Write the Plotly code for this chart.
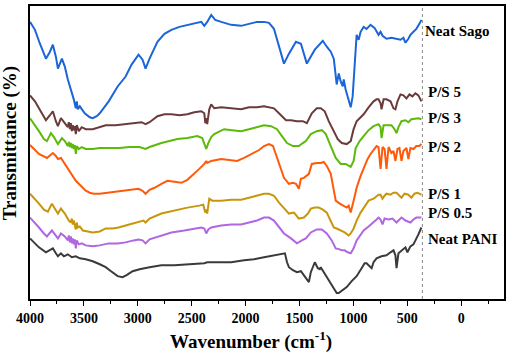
import plotly.graph_objects as go

# ---- data (wavenumber in cm^-1, transmittance in arbitrary offset units) ----
sago_wn = [4000,3954,3908,3852,3815,3788,3760,3741,3704,3677,3649,3630,3612,3594,3575,3566,3557,3538,3492,3446,3418,3381,3353,3270,3187,3113,3058,2993,2956,2928,2891,2818,2753,2688,2614,2540,2476,2411,2383,2356,2319,2282,2226,2134,2042,1968,1894,1829,1783,1737,1690,1644,1598,1533,1487,1432,1358,1284,1247,1210,1182,1164,1155,1136,1118,1099,1090,1072,1044,1025,1007,989,979,970,951,933,905,878,841,804,767,748,730,693,647,600,563,536,517,490,471,443,416,388,369]
sago_t = [280,272,258,243,250,257,245,233,243,235,222,215,210,202,193,200,192,195,188,184,183,185,188,200,215,225,237,247,242,233,243,260,268,272,275,277,279,280,276,280,287,282,280,277,276,278,280,280,279,273,255,238,248,260,258,238,252,261,255,250,243,225,217,228,220,215,222,212,202,194,205,240,260,267,262,270,275,273,277,274,267,270,266,263,264,263,262,264,259,263,267,270,273,278,282]

ps5_wn = [4000,3954,3917,3852,3815,3788,3760,3741,3713,3677,3649,3640,3630,3621,3612,3603,3594,3584,3575,3566,3547,3520,3483,3418,3353,3298,3206,3113,3021,2965,2928,2891,2818,2753,2688,2614,2540,2476,2411,2383,2374,2365,2356,2337,2319,2291,2226,2134,2042,1968,1894,1829,1783,1737,1681,1625,1579,1524,1469,1432,1386,1340,1303,1266,1229,1182,1145,1108,1062,1025,998,970,933,905,859,813,785,767,748,739,720,693,656,628,610,591,563,536,508,480,453,425,397,369]
ps5_t = [206,200,193,181,186,190,180,175,183,178,174,179,172,178,170,176,171,175,167,176,170,174,172,172,174,176,176,177,178,179,177,179,185,187,187,186,187,189,190,188,178,183,177,192,197,193,194,193,192,194,194,195,194,193,187,181,181,180,180,178,188,193,193,190,180,170,162,158,157,160,172,180,184,187,194,200,202,202,198,192,202,202,200,193,192,200,207,206,203,207,205,208,206,200]

ps3_wn = [4000,3954,3917,3871,3843,3806,3778,3741,3704,3677,3649,3640,3630,3621,3612,3603,3594,3584,3575,3566,3547,3520,3483,3418,3353,3270,3169,3076,2984,2928,2891,2781,2707,2633,2540,2448,2402,2374,2365,2346,2319,2291,2199,2125,2042,1968,1894,1829,1764,1709,1663,1616,1561,1506,1469,1441,1395,1340,1293,1256,1210,1164,1118,1072,1025,998,979,942,905,859,813,767,748,739,720,693,647,619,600,582,554,517,490,462,425,397,369]
ps3_t = [183,176,170,162,160,168,164,157,163,160,155,159,154,158,153,157,152,156,147,155,152,154,152,152,153,153,153,154,154,152,154,158,160,162,163,165,163,155,152,158,164,167,172,171,170,172,174,176,175,172,165,158,155,155,158,160,167,170,171,167,155,143,137,137,134,140,153,160,165,171,175,177,174,163,176,176,176,172,168,174,180,181,179,182,183,183,182]

ps2_wn = [4000,3954,3917,3843,3815,3788,3760,3741,3713,3677,3640,3612,3575,3529,3483,3446,3409,3353,3270,3187,3113,3039,2993,2956,2928,2891,2845,2781,2725,2660,2596,2540,2476,2430,2383,2365,2356,2319,2226,2152,2079,2014,1949,1875,1829,1783,1746,1709,1672,1644,1598,1561,1533,1506,1487,1459,1413,1386,1340,1303,1275,1247,1210,1182,1164,1127,1090,1062,1044,1025,998,970,933,905,868,841,804,785,767,748,730,711,693,674,647,628,610,591,573,554,536,508,490,471,443,416,388,369]
ps2_t = [156,151,147,143,146,148,145,142,143,137,130,125,120,115,110,108,107,107,108,109,110,111,112,110,107,111,113,117,120,119,118,121,127,132,137,140,138,140,142,141,140,143,147,151,155,157,155,143,132,123,117,118,117,112,122,123,127,137,138,138,139,135,127,110,100,97,95,93,95,88,100,113,125,133,142,147,153,155,154,132,154,152,132,154,148,150,140,152,153,140,150,153,142,153,152,155,155,157]

ps1_wn = [4000,3954,3917,3871,3834,3797,3769,3741,3713,3677,3640,3621,3612,3603,3594,3584,3575,3566,3557,3538,3510,3464,3418,3353,3298,3233,3178,3113,3048,2984,2947,2928,2891,2781,2707,2633,2540,2430,2393,2374,2365,2356,2337,2309,2226,2134,2042,1968,1894,1829,1783,1737,1690,1644,1598,1551,1506,1459,1422,1395,1358,1321,1284,1247,1210,1182,1155,1118,1081,1044,1025,998,970,933,905,859,813,767,748,730,711,693,656,628,600,554,526,490,462,434,406,369]
ps1_t = [107,102,97,91,89,97,92,87,92,87,80,78,82,76,80,74,71,78,73,74,70,69,68,69,72,72,73,75,77,79,80,78,82,87,89,91,93,95,96,88,91,87,102,100,100,101,101,103,105,107,107,105,98,92,87,88,82,83,87,92,93,93,91,88,80,73,72,70,68,65,67,72,80,88,93,100,102,106,106,102,105,107,106,108,108,103,107,106,103,107,108,106]

ps05_wn = [4000,3954,3917,3871,3843,3797,3769,3741,3713,3677,3649,3640,3630,3621,3612,3603,3594,3584,3575,3566,3547,3520,3483,3418,3353,3270,3187,3113,3039,2993,2956,2928,2891,2781,2688,2568,2476,2411,2383,2365,2346,2319,2226,2134,2042,1968,1894,1829,1783,1737,1690,1644,1579,1524,1478,1441,1395,1340,1293,1247,1201,1164,1127,1108,1081,1053,1025,998,970,933,905,859,813,785,767,748,730,711,674,637,600,554,517,471,443,416,369]
ps05_t = [83,78,73,67,64,70,66,62,67,64,60,65,58,64,57,62,56,61,52,60,56,57,55,54,55,57,57,58,60,61,60,57,61,65,68,70,72,73,72,67,71,73,75,76,76,78,80,83,83,80,74,67,62,57,60,62,68,71,71,67,60,52,51,50,50,48,47,52,60,66,70,74,78,81,83,81,76,82,81,82,78,83,80,78,81,83,83]

pani_wn = [4000,3954,3917,3852,3815,3788,3760,3741,3713,3686,3649,3612,3575,3538,3483,3418,3353,3298,3261,3224,3187,3141,3104,3048,2984,2891,2781,2660,2522,2383,2356,2245,2134,2014,1922,1829,1737,1672,1635,1616,1598,1561,1524,1487,1450,1413,1395,1358,1330,1312,1303,1275,1238,1210,1182,1155,1136,1099,1062,1016,970,924,896,878,859,831,813,785,739,693,656,628,610,600,582,545,517,499,471,443,416,397,369]
pani_t = [62,57,53,48,50,52,47,44,47,44,46,43,44,42,41,39,36,33,30,27,24,23,25,29,31,33,35,35,36,37,38,38,38,40,41,43,45,46,47,38,33,30,28,29,24,18,28,38,32,31,33,28,21,17,12,7,7,10,13,19,24,32,37,37,35,32,38,42,44,45,48,50,45,32,47,51,53,48,54,56,61,66,73]

series_names = ["Neat Sago", "P/S 5", "P/S 3", "P/S 2", "P/S 1", "P/S 0.5", "Neat PANI"]
series_colors = ["#1a66d9", "#6b3b3b", "#5cba0a", "#ff5a0a", "#c8960c", "#b066e0", "#3a3a3a"]
label_y = [271, 209, 183, 154, 107, 88, 61]
label_x = [357, 330, 330, 330, 330, 330, 330]

xs = [sago_wn, ps5_wn, ps3_wn, ps2_wn, ps1_wn, ps05_wn, pani_wn]
ys = [sago_t, ps5_t, ps3_t, ps2_t, ps1_t, ps05_t, pani_t]

tick_vals = [4000, 3500, 3000, 2500, 2000, 1500, 1000, 500, 0]
tick_text = ["4000", "3500", "3000", "2500", "2000", "1500", "1000", "500", "0"]

FONT = "Liberation Serif"

fig = go.Figure()
for name, col, x, y in zip(series_names, series_colors, xs, ys):
    fig.add_trace(go.Scatter(x=x, y=y, mode="lines", name=name,
                             line=dict(color=col, width=2), showlegend=False))

annotations = []
for name, lx, ly in zip(series_names, label_x, label_y):
    annotations.append(dict(x=lx, y=ly, xref="x", yref="y", text=name, showarrow=False,
                            xanchor="left", yanchor="middle",
                            font=dict(family=FONT, size=15, color="black", weight="bold")))
annotations.append(dict(x=0.466, y=-0.142, xref="paper", yref="paper",
                        text="Wavenumber (cm<sup>-1</sup>)", showarrow=False,
                        xanchor="center", yanchor="middle",
                        font=dict(family=FONT, size=19, color="black", weight="bold")))
annotations.append(dict(x=-0.042, y=0.532, xref="paper", yref="paper",
                        text="Transmittance (%)", showarrow=False, textangle=-90,
                        xanchor="center", yanchor="middle",
                        font=dict(family=FONT, size=19, color="black", weight="bold")))

fig.update_layout(
    width=510, height=355,
    margin=dict(l=30, r=4, t=4, b=56),
    paper_bgcolor="white", plot_bgcolor="white",
    annotations=annotations,
    shapes=[dict(type="line", xref="x", yref="paper", x0=360, x1=360, y0=0, y1=1,
                 line=dict(color="#888888", width=1, dash="dot"))],
    xaxis=dict(range=[4000, -397], tickvals=tick_vals, ticktext=tick_text,
               ticks="outside", ticklen=5, tickwidth=1.2, tickcolor="black",
               showline=True, linecolor="black", linewidth=1.5, mirror=True,
               showgrid=False, zeroline=False,
               tickfont=dict(family=FONT, size=14, color="black", weight="bold"),
               minor=dict(dtick=250, tick0=0, ticks="outside", ticklen=3, tickcolor="black", showgrid=False)),
    yaxis=dict(range=[1, 296], showticklabels=False, ticks="",
               showline=True, linecolor="black", linewidth=1.5, mirror=True,
               showgrid=False, zeroline=False),
)

fig.write_html("out.html", config={"displayModeBar": False},
               post_script="document.body.style.margin='0';document.body.style.overflow='hidden';")
